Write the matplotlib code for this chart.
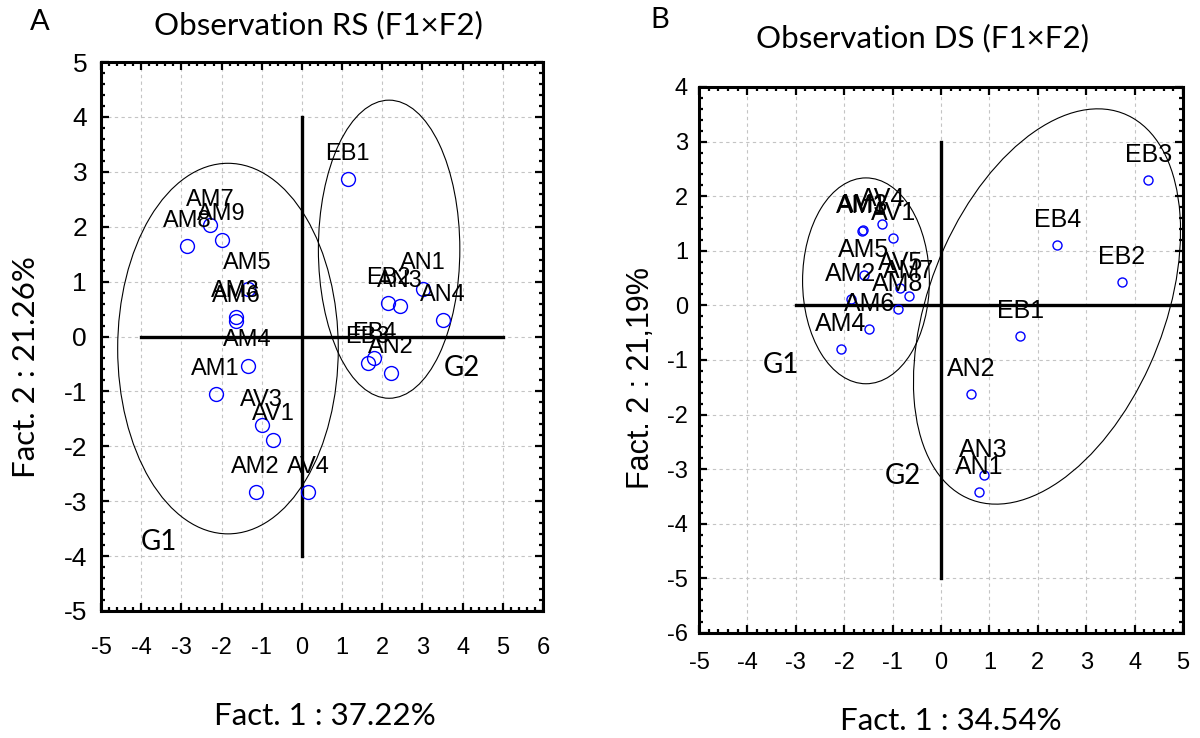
import matplotlib
matplotlib.use("Agg")
import matplotlib.pyplot as plt
from matplotlib.patches import Ellipse
from matplotlib.ticker import MultipleLocator, AutoMinorLocator

# Panel A: Observation RS
rs_labels = ["AM1", "AM2", "AM3", "AM4", "AM5", "AM6", "AM7", "AM8", "AM9",
             "AV1", "AV3", "AV4",
             "EB1", "EB2", "EB3", "EB4", "AN1", "AN2", "AN3", "AN4"]
rs_f1 = [-2.15, -1.15, -1.65, -1.35, -1.35, -1.64, -2.29, -2.86, -2.00,
         -0.71, -1.00, 0.16,
         1.14, 2.15, 1.64, 1.80, 3.01, 2.21, 2.43, 3.51]
rs_f2 = [-1.05, -2.84, 0.36, -0.53, 0.87, 0.28, 2.03, 1.64, 1.76,
         -1.88, -1.62, -2.84,
         2.86, 0.61, -0.48, -0.40, 0.87, -0.66, 0.55, 0.30]

# Panel B: Observation DS
ds_labels = ["AM1", "AM3", "AV4", "AV1", "AM5", "AM2", "AV5", "AM7", "AM8", "AM6", "AM4",
             "EB3", "EB4", "EB2", "EB1", "AN2", "AN3", "AN1"]
ds_f1 = [-1.64, -1.62, -1.21, -0.99, -1.59, -1.86, -0.84, -0.67, -0.89, -1.48, -2.07,
         4.28, 2.40, 3.74, 1.64, 0.63, 0.88, 0.79]
ds_f2 = [1.37, 1.38, 1.49, 1.24, 0.56, 0.12, 0.31, 0.18, -0.07, -0.43, -0.80,
         2.30, 1.11, 0.43, -0.56, -1.62, -3.10, -3.42]

W, H = 1200, 738
TICK_FONT = "Liberation Sans"
TEXT_FONT = "Lato"


def fx(x):
    return x / W


def fy(y):
    return 1 - y / H


def style_axes(ax, xlim, ylim, xpad, ypad, xsize, ysize):
    ax.set_xlim(*xlim)
    ax.set_ylim(*ylim)
    ax.xaxis.set_major_locator(MultipleLocator(1))
    ax.yaxis.set_major_locator(MultipleLocator(1))
    ax.xaxis.set_minor_locator(AutoMinorLocator(5))
    ax.yaxis.set_minor_locator(AutoMinorLocator(5))
    ax.grid(True, which="major", color="#c4c4c4", linestyle=(0, (3, 3)), linewidth=0.8)
    ax.set_axisbelow(True)
    ax.tick_params(which="both", direction="in", top=True, right=True, width=1.6)
    ax.tick_params(which="major", length=6)
    ax.tick_params(which="minor", length=3)
    ax.tick_params(axis="x", which="major", pad=xpad, labelsize=xsize)
    ax.tick_params(axis="y", which="major", pad=ypad, labelsize=ysize)
    for lab in ax.get_xticklabels() + ax.get_yticklabels():
        lab.set_fontfamily(TICK_FONT)
    ax.xaxis.set_major_formatter(matplotlib.ticker.FuncFormatter(lambda v, p: f"{v:g}"))
    ax.yaxis.set_major_formatter(matplotlib.ticker.FuncFormatter(lambda v, p: f"{v:g}"))
    for sp in ax.spines.values():
        sp.set_linewidth(2.2)


def draw_points(ax, xs, ys, labels, msize, fsize, off):
    ax.plot(xs, ys, linestyle="none", marker="o", markersize=msize,
            markerfacecolor="none", markeredgecolor="blue", markeredgewidth=1.0, zorder=4)
    for x, y, t in zip(xs, ys, labels):
        ax.annotate(t, (x, y), xytext=(0, off), textcoords="offset points",
                    ha="center", va="baseline", fontsize=fsize, family=TICK_FONT,
                    color="black", zorder=5)


fig = plt.figure(figsize=(W / 100, H / 100), dpi=100)

# ---- Panel A ----
axA = fig.add_axes([fx(101), fy(611), (543 - 101) / W, (611 - 62) / H])
style_axes(axA, (-5, 6), (-5, 5), xpad=19, ypad=10, xsize=17, ysize=19)
axA.plot([-4, 5], [0, 0], color="black", linewidth=2.4, zorder=3)
axA.plot([0, 0], [-4, 4], color="black", linewidth=2.4, zorder=3)
axA.add_patch(Ellipse((-1.84, -0.22), 5.49, 6.75, fill=False, edgecolor="black", linewidth=0.8, zorder=3))
axA.add_patch(Ellipse((2.17, 1.59), 3.52, 5.43, fill=False, edgecolor="black", linewidth=0.8, zorder=3))
draw_points(axA, rs_f1, rs_f2, rs_labels, msize=10, fsize=17, off=14)
axA.text(-3.57, -3.75, "G1", ha="center", va="center", fontsize=20, family=TEXT_FONT)
axA.text(3.98, -0.58, "G2", ha="center", va="center", fontsize=20, family=TEXT_FONT)

# ---- Panel B ----
axB = fig.add_axes([fx(699), fy(633), (1183 - 699) / W, (633 - 87) / H])
style_axes(axB, (-5, 5), (-6, 4), xpad=14, ypad=8, xsize=17, ysize=17)
axB.plot([-3, 5], [0, 0], color="black", linewidth=2.4, zorder=3)
axB.plot([0, 0], [-5, 3], color="black", linewidth=2.4, zorder=3)
axB.add_patch(Ellipse((-1.55, 0.45), 2.62, 3.77, fill=False, edgecolor="black", linewidth=0.8, zorder=3))
axB.add_patch(Ellipse((2.19, -0.02), 7.76, 4.76, angle=62.9, fill=False, edgecolor="black", linewidth=0.8, zorder=3))
draw_points(axB, ds_f1, ds_f2, ds_labels, msize=6.5, fsize=18, off=13)
axB.text(-3.31, -1.09, "G1", ha="center", va="center", fontsize=20, family=TEXT_FONT)
axB.text(-0.78, -3.13, "G2", ha="center", va="center", fontsize=20, family=TEXT_FONT)

# ---- titles and axis labels ----
fig.text(fx(40), fy(22), "A", ha="center", va="center", fontsize=21, family=TEXT_FONT)
fig.text(fx(318), fy(25), "Observation RS (F1×F2)", ha="center", va="center", fontsize=22.5, family=TEXT_FONT)
fig.text(fx(660), fy(20), "B", ha="center", va="center", fontsize=21, family=TEXT_FONT)
fig.text(fx(923), fy(38), "Observation DS (F1×F2)", ha="center", va="center", fontsize=22.5, family=TEXT_FONT)

fig.text(fx(325), fy(716), "Fact. 1 : 37.22%", ha="center", va="center", fontsize=22.5, family=TEXT_FONT)
fig.text(fx(951), fy(721), "Fact. 1 : 34.54%", ha="center", va="center", fontsize=22.5, family=TEXT_FONT)
fig.text(fx(26), fy(367), "Fact. 2 : 21.26%", ha="center", va="center", rotation=90, fontsize=22.5, family=TEXT_FONT)
fig.text(fx(641), fy(378), "Fact. 2 : 21,19%", ha="center", va="center", rotation=90, fontsize=22, family=TICK_FONT)

fig.savefig("out.png", dpi=100, facecolor="white")
